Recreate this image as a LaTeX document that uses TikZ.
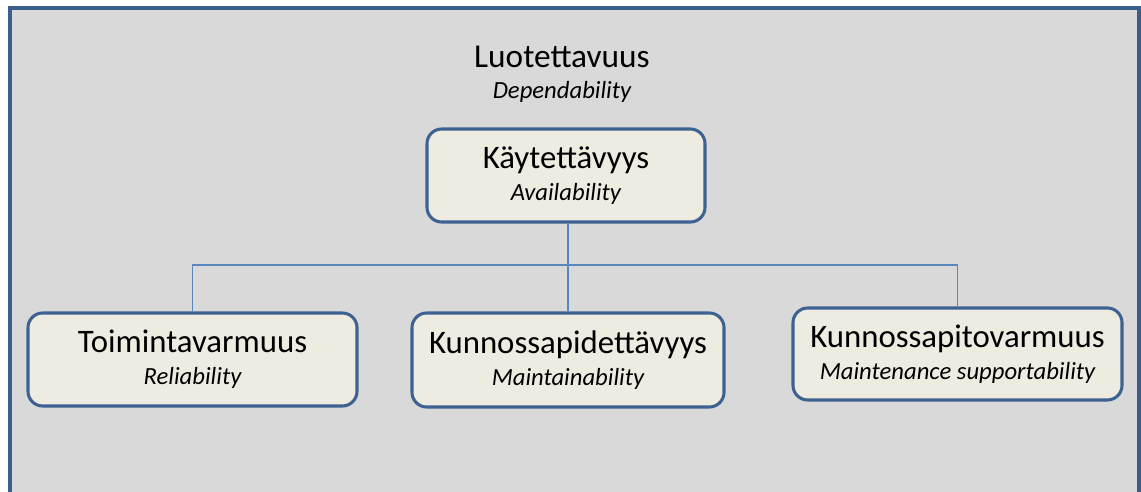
\documentclass[tikz,border=0pt]{standalone}
\usepackage{fontspec}
\setmainfont{Carlito}
\definecolor{panelgray}{HTML}{D9D9D9}
\definecolor{frameblue}{HTML}{3A5F8C}
\definecolor{boxfill}{HTML}{EEECE1}
\definecolor{boxedge}{HTML}{3D6291}
\definecolor{linkblue}{HTML}{5B87BF}
\tikzset{
  termbox/.style={draw=boxedge, fill=boxfill, line width=2.3pt,
    rounded corners=11pt, align=center, inner sep=0pt,
    font=\fontsize{24.6}{24}\selectfont},
  link/.style={draw=linkblue, line width=0.9pt}
}
\newcommand{\engl}[1]{{\fontsize{18.5}{24}\selectfont\itshape #1}}
\begin{document}
\begin{tikzpicture}[x=0.75pt,y=-0.75pt]
  \useasboundingbox (0,0) rectangle (1141,492);
  % panel background and its frame (open at the bottom)
  \fill[panelgray] (10,8) rectangle (1139,492);
  \draw[frameblue, line width=3pt] (10,492) -- (10,8) -- (1139,8) -- (1139,492);

  % heading
  \node[align=center, font=\fontsize{25}{23}\selectfont] (top) at (562,74)
    {Luotettavuus\\\engl{Dependability}};

  % boxes
  \node[termbox, minimum width=278*0.75pt, minimum height=93*0.75pt] (A) at (566,175.5)
    {Käytettävyys\\\engl{Availability}};
  \node[termbox, minimum width=329*0.75pt, minimum height=93*0.75pt] (T) at (192.5,359.5)
    {Toimintavarmuus\\\engl{Reliability}};
  \node[termbox, minimum width=312*0.75pt, minimum height=94*0.75pt] (M) at (568,360)
    {Kunnossapidettävyys\\\engl{Maintainability}};
  \node[termbox, minimum width=329*0.75pt, minimum height=92*0.75pt] (S) at (957.5,354)
    {Kunnossapitovarmuus\\\engl{Maintenance supportability}};

  % tree connectors
  \coordinate (bus) at (0,265);
  \draw[link] (M.north) -- (M.north |- A.south);
  \draw[link] (T.north) -- (T.north |- bus) -- (S.north |- bus) -- (S.north);
\end{tikzpicture}
\end{document}
